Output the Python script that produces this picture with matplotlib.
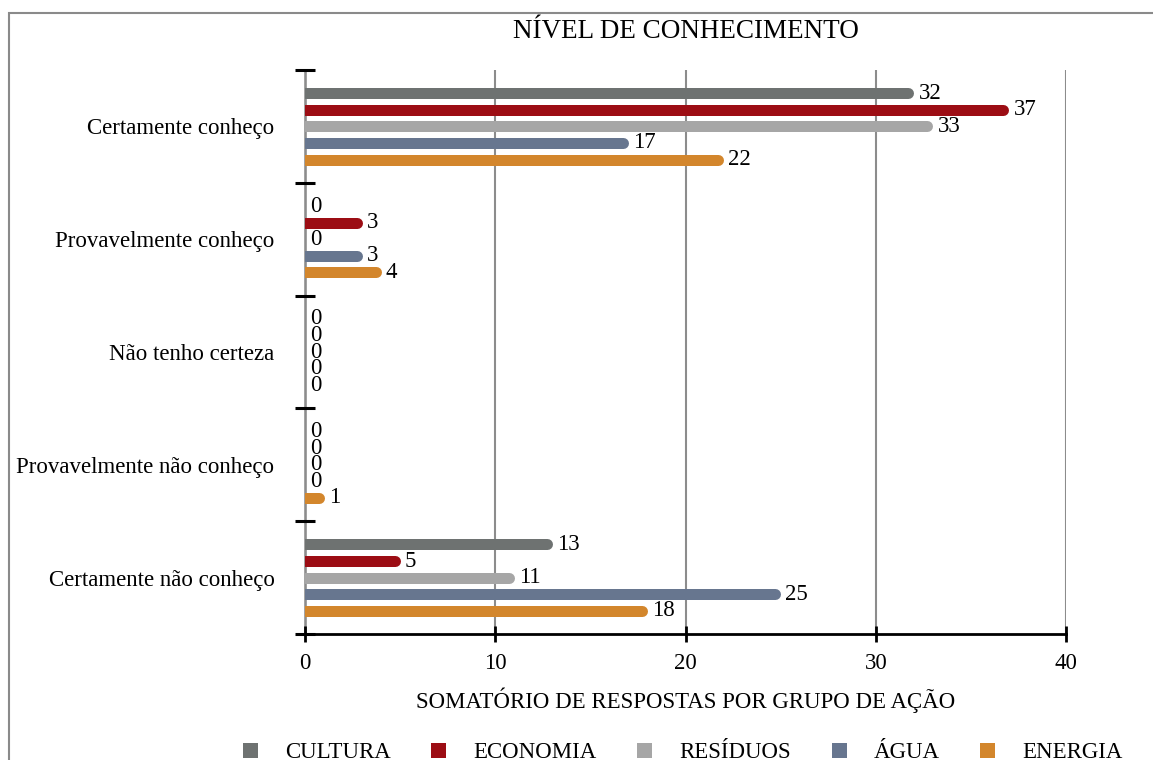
import numpy as np
import matplotlib
matplotlib.use("Agg")
import matplotlib.pyplot as plt
from matplotlib.patches import Rectangle

categories = ["Certamente conheço", "Provavelmente conheço", "Não tenho certeza",
              "Provavelmente não conheço", "Certamente não conheço"]
series = ["CULTURA", "ECONOMIA", "RESÍDUOS", "ÁGUA", "ENERGIA"]
cultura = [32, 0, 0, 0, 13]
economia = [37, 3, 0, 0, 5]
residuos = [33, 0, 0, 0, 11]
agua = [17, 3, 0, 0, 25]
energia = [22, 4, 0, 1, 18]
values = [cultura, economia, residuos, agua, energia]
colors = ["#6e7271", "#9c0d14", "#a6a6a6", "#67768f", "#d3862c"]

plt.rcParams["font.family"] = ["Liberation Serif", "DejaVu Serif"]
plt.rcParams["font.size"] = 16.5

W, H = 1153, 760
fig = plt.figure(figsize=(W / 100, H / 100), dpi=100)
ax_l, ax_r, ax_t, ax_b = 305, 1066, 70, 634
ax = fig.add_axes([ax_l / W, 1 - ax_b / H, (ax_r - ax_l) / W, (ax_b - ax_t) / H])

# figure frame (only left/top visible in the crop)
fig.patches.append(Rectangle((9 / W, -0.1), 1.2, 1 - 13 / H + 0.1, transform=fig.transFigure,
                             fill=False, edgecolor="#8a8a8a", lw=1.5, zorder=0))

xmax = 40
px_per_unit = (ax_r - ax_l) / xmax
bar_px = 11
r = (bar_px / 2) / px_per_unit
step = 0.147

for k, (name, vals, c) in enumerate(zip(series, values, colors)):
    ys = np.arange(len(categories)) + 0.5 + (k - 2) * step
    for y, v in zip(ys, vals):
        if v > 0:
            # round cap on the right; the left cap is clipped by the axes at x=0
            ax.plot([0, v - r], [y, y], color=c, lw=bar_px * 0.72,
                    solid_capstyle="round", zorder=3)
        ax.annotate(str(v), (v, y), xytext=(3.5, 0), textcoords="offset points",
                    va="center", ha="left", fontsize=16.5, zorder=4)
    ax.barh(np.nan, 0, color=c, label=name)

ax.set_xlim(0, xmax)
ax.set_ylim(len(categories), 0)
ax.set_xticks([0, 10, 20, 30, 40])
ax.set_yticks(np.arange(len(categories) + 1))
ax.set_yticklabels([])
ax.set_yticks(np.arange(len(categories)) + 0.5, minor=True)
ax.set_yticklabels(categories, minor=True)
ax.tick_params(axis="y", which="major", direction="inout", length=14, width=2.2, color="black")
ax.tick_params(axis="y", which="minor", length=0, pad=22)
ax.tick_params(axis="x", direction="inout", length=11, width=2, color="black", pad=8)

ax.xaxis.grid(True, color="#8c8c8c", lw=1.5, zorder=1)
for s in ["top", "right"]:
    ax.spines[s].set_visible(False)
ax.spines["left"].set_color("#999999")
ax.spines["left"].set_linewidth(2)
ax.spines["left"].set_zorder(1)
ax.spines["bottom"].set_color("black")
ax.spines["bottom"].set_linewidth(2)

ax.set_xlabel("SOMATÓRIO DE RESPOSTAS POR GRUPO DE AÇÃO", labelpad=10)
fig.text((ax_l + ax_r) / 2 / W, 1 - 31 / H, "NÍVEL DE CONHECIMENTO", ha="center", va="center",
         fontsize=19.5)

fig.legend(loc="center", bbox_to_anchor=(683 / W, 1 - 753 / H), ncol=5, frameon=False,
           handlelength=0.65, handleheight=0.65, handletextpad=1.2, columnspacing=1.76)

fig.savefig("out.png", dpi=100)
